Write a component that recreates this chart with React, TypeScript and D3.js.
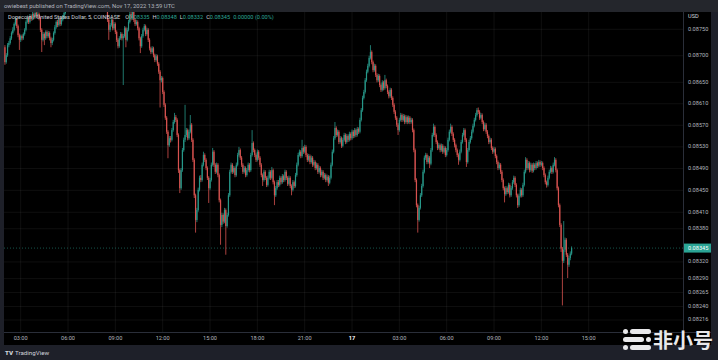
import React from "react";
import * as d3 from "d3";

// ---- data (prices in units of 0.00001 USD, 5-minute candles) ----
const PRICE_UNIT = 1e-5;
const FIRST_CANDLE_UTC = Date.UTC(2022, 10, 16, 2, 0);
const INTERVAL_MS = 5 * 60 * 1000;
const FIRST_OPEN = 8716;

const closes = [
  8688,8701,8720,8724,8733,8743,8749,8760,8768,8756,
  8739,8730,8737,8733,8741,8749,8764,8771,8764,8775,
  8770,8779,8773,8781,8775,8779,8771,8749,8730,8741,
  8733,8745,8737,8743,8733,8724,8730,8743,8754,8764,
  8758,8770,8760,8768,8773,8781,8789,8798,8802,8808,
  8812,8806,8815,8820,8814,8818,8825,8822,8816,8810,
  8818,8824,8830,8826,8820,8814,8808,8812,8818,8812,
  8806,8800,8806,8812,8808,8802,8796,8792,8768,8749,
  8758,8768,8752,8760,8745,8730,8718,8733,8741,8733,
  8737,8752,8730,8749,8764,8779,8771,8783,8768,8760,
  8764,8752,8733,8718,8737,8749,8756,8741,8749,8730,
  8714,8707,8714,8701,8692,8699,8685,8670,8654,8658,
  8632,8608,8584,8558,8533,8546,8543,8561,8576,8585,
  8580,8552,8487,8454,8487,8524,8543,8552,8561,8546,
  8558,8571,8543,8506,8441,8396,8414,8451,8473,8469,
  8497,8515,8506,8491,8473,8454,8469,8497,8521,8497,
  8484,8497,8478,8432,8387,8405,8393,8414,8385,8405,
  8441,8484,8497,8484,8491,8478,8497,8515,8524,8510,
  8497,8484,8491,8478,8487,8497,8487,8515,8537,8524,
  8515,8506,8521,8510,8497,8478,8469,8484,8473,8460,
  8473,8484,8473,8487,8465,8441,8454,8465,8460,8473,
  8465,8476,8469,8484,8473,8462,8473,8458,8451,8465,
  8458,8478,8497,8515,8521,8513,8528,8521,8530,8515,
  8506,8513,8502,8510,8497,8502,8491,8497,8484,8491,
  8478,8484,8473,8478,8469,8475,8464,8473,8497,8521,
  8546,8565,8552,8558,8539,8546,8532,8543,8552,8539,
  8550,8543,8554,8546,8558,8550,8561,8552,8563,8558,
  8580,8598,8621,8632,8654,8670,8681,8696,8707,8688,
  8673,8681,8664,8654,8662,8645,8636,8650,8639,8654,
  8643,8632,8624,8636,8621,8608,8595,8584,8571,8561,
  8580,8589,8580,8587,8576,8585,8576,8584,8576,8580,
  8561,8524,8469,8423,8396,8418,8441,8458,8484,8510,
  8515,8502,8510,8499,8524,8552,8567,8552,8539,8528,
  8533,8524,8532,8521,8528,8515,8524,8543,8558,8567,
  8554,8543,8533,8524,8515,8506,8521,8539,8552,8561,
  8543,8502,8524,8539,8546,8558,8569,8580,8589,8598,
  8595,8584,8589,8576,8563,8571,8558,8550,8539,8543,
  8528,8521,8526,8513,8502,8491,8497,8484,8469,8454,
  8443,8454,8447,8460,8441,8454,8465,8473,8460,8441,
  8423,8440,8451,8441,8460,8484,8506,8491,8500,8487,
  8497,8486,8497,8491,8500,8495,8502,8497,8500,8491,
  8478,8465,8460,8473,8484,8491,8484,8497,8506,8487,
  8454,8423,8387,8344,8322,8342,8360,8333,8315,8327,
  8335,8345,
];

const highs = [
  8720,8705,8724,8728,8737,8746,8754,8763,8773,8771,
  8759,8742,8740,8740,8744,8752,8767,8775,8774,8779,
  8778,8783,8782,8786,8784,8784,8782,8774,8752,8745,
  8744,8748,8748,8747,8746,8736,8734,8746,8758,8767,
  8768,8774,8773,8772,8777,8785,8793,8802,8806,8812,
  8816,8815,8819,8824,8823,8822,8829,8828,8825,8819,
  8822,8828,8834,8833,8829,8823,8817,8816,8822,8821,
  8815,8809,8810,8816,8815,8811,8805,8799,8795,8771,
  8762,8772,8771,8764,8763,8748,8733,8737,8745,8744,
  8741,8756,8755,8753,8768,8796,8783,8790,8786,8771,
  8768,8767,8755,8736,8741,8753,8760,8759,8753,8752,
  8733,8717,8718,8717,8704,8703,8702,8688,8673,8662,
  8661,8635,8611,8587,8561,8550,8550,8565,8580,8593,
  8589,8583,8555,8490,8491,8528,8547,8608,8565,8564,
  8562,8589,8574,8546,8509,8444,8418,8455,8477,8478,
  8501,8521,8518,8509,8494,8476,8473,8501,8528,8524,
  8500,8501,8500,8481,8435,8409,8408,8418,8417,8409,
  8445,8488,8501,8500,8495,8494,8501,8519,8530,8527,
  8513,8500,8495,8494,8491,8501,8500,8519,8561,8540,
  8527,8518,8525,8524,8513,8500,8481,8488,8487,8476,
  8477,8488,8487,8493,8490,8468,8458,8469,8469,8477,
  8476,8480,8479,8488,8487,8476,8477,8476,8461,8469,
  8468,8482,8501,8519,8525,8524,8543,8531,8534,8533,
  8518,8517,8516,8514,8513,8506,8505,8501,8500,8495,
  8494,8488,8487,8482,8481,8479,8478,8477,8501,8525,
  8550,8576,8568,8562,8561,8550,8549,8547,8556,8555,
  8554,8553,8558,8557,8562,8561,8565,8564,8567,8566,
  8584,8602,8625,8636,8658,8674,8685,8700,8720,8710,
  8691,8685,8684,8667,8666,8665,8648,8654,8653,8664,
  8657,8646,8635,8640,8639,8624,8611,8598,8587,8574,
  8584,8593,8592,8591,8590,8589,8588,8588,8587,8584,
  8583,8564,8527,8472,8426,8422,8445,8462,8488,8514,
  8519,8518,8514,8513,8528,8556,8573,8570,8555,8542,
  8537,8536,8536,8535,8532,8531,8528,8547,8562,8573,
  8570,8557,8546,8536,8527,8518,8525,8543,8556,8565,
  8564,8546,8528,8543,8550,8562,8573,8584,8593,8602,
  8603,8598,8593,8592,8579,8575,8574,8561,8553,8547,
  8546,8531,8530,8529,8516,8505,8501,8500,8487,8472,
  8457,8458,8457,8464,8463,8458,8469,8477,8476,8463,
  8444,8444,8455,8454,8464,8488,8511,8509,8504,8503,
  8501,8500,8501,8500,8504,8503,8506,8505,8504,8503,
  8494,8481,8468,8477,8488,8495,8494,8501,8511,8509,
  8490,8457,8426,8390,8347,8394,8364,8363,8336,8331,
  8339,8348,
];

const lows = [
  8683,8685,8698,8716,8721,8730,8740,8746,8757,8752,
  8735,8711,8726,8729,8730,8738,8746,8761,8760,8761,
  8766,8767,8769,8770,8771,8772,8767,8745,8707,8727,
  8720,8730,8733,8734,8729,8716,8720,8727,8740,8751,
  8754,8755,8756,8757,8765,8770,8778,8786,8795,8799,
  8805,8803,8803,8812,8811,8811,8815,8819,8813,8807,
  8807,8815,8821,8823,8817,8811,8805,8805,8809,8809,
  8803,8797,8797,8803,8805,8799,8793,8789,8764,8730,
  8745,8755,8748,8749,8741,8726,8714,8715,8730,8729,
  8645,8734,8716,8727,8746,8761,8767,8768,8764,8756,
  8757,8748,8729,8705,8715,8734,8746,8737,8738,8726,
  8710,8703,8704,8697,8688,8689,8681,8666,8603,8650,
  8628,8604,8580,8554,8509,8530,8538,8540,8558,8573,
  8576,8548,8482,8445,8451,8484,8521,8539,8548,8542,
  8543,8555,8539,8502,8436,8373,8392,8411,8448,8465,
  8466,8494,8502,8487,8469,8427,8451,8466,8494,8493,
  8480,8481,8474,8428,8351,8383,8389,8390,8333,8382,
  8402,8438,8481,8480,8481,8474,8475,8494,8512,8506,
  8493,8480,8481,8474,8475,8484,8483,8484,8512,8520,
  8511,8502,8503,8506,8493,8474,8458,8466,8469,8456,
  8457,8470,8469,8470,8461,8423,8438,8451,8456,8457,
  8461,8462,8465,8466,8469,8458,8459,8454,8441,8448,
  8454,8455,8475,8494,8512,8509,8510,8517,8518,8511,
  8502,8503,8498,8499,8493,8494,8487,8488,8480,8481,
  8474,8475,8469,8470,8465,8466,8458,8461,8470,8494,
  8518,8543,8548,8549,8535,8536,8528,8529,8540,8535,
  8536,8539,8540,8542,8543,8546,8547,8548,8549,8554,
  8555,8577,8595,8618,8629,8651,8667,8678,8693,8684,
  8669,8670,8660,8650,8651,8641,8632,8633,8635,8636,
  8639,8628,8620,8621,8617,8604,8591,8580,8567,8552,
  8558,8577,8576,8577,8572,8573,8572,8573,8572,8573,
  8557,8520,8465,8419,8373,8393,8415,8438,8455,8481,
  8506,8498,8499,8491,8496,8521,8549,8548,8535,8524,
  8525,8520,8521,8517,8518,8511,8512,8521,8540,8555,
  8550,8539,8529,8520,8511,8497,8503,8518,8536,8549,
  8539,8493,8499,8521,8536,8543,8555,8566,8577,8586,
  8591,8580,8581,8572,8559,8560,8554,8546,8535,8536,
  8524,8517,8518,8509,8498,8487,8488,8480,8465,8450,
  8428,8440,8443,8444,8437,8438,8451,8462,8456,8437,
  8418,8420,8437,8437,8438,8457,8481,8487,8488,8483,
  8484,8482,8483,8487,8488,8491,8492,8493,8494,8487,
  8474,8461,8455,8457,8470,8481,8480,8481,8494,8483,
  8450,8419,8383,8338,8242,8318,8338,8329,8291,8311,
  8323,8332,
];

const priceTicks = [0.0875, 0.087, 0.0865, 0.0861, 0.0857, 0.0853, 0.0849, 0.0845, 0.0841, 0.0838, 0.0832, 0.0829, 0.08265, 0.0824, 0.08216];
const timeTicks = [
  Date.UTC(2022, 10, 16, 3), Date.UTC(2022, 10, 16, 6), Date.UTC(2022, 10, 16, 9),
  Date.UTC(2022, 10, 16, 12), Date.UTC(2022, 10, 16, 15), Date.UTC(2022, 10, 16, 18),
  Date.UTC(2022, 10, 16, 21), Date.UTC(2022, 10, 17, 0), Date.UTC(2022, 10, 17, 3),
  Date.UTC(2022, 10, 17, 6), Date.UTC(2022, 10, 17, 9), Date.UTC(2022, 10, 17, 12),
  Date.UTC(2022, 10, 17, 15),
];
const timeTickLabels = ["03:00", "06:00", "09:00", "12:00", "15:00", "18:00", "21:00", "17", "03:00", "06:00", "09:00", "12:00", "15:00"];

const LAST_PRICE = 0.08345;
const HEADER_TEXT = "owiebest published on TradingView.com, Nov 17, 2022 13:59 UTC";
const SYMBOL_TEXT = "Dogecoin / United States Dollar, 5, COINBASE";
const OHLC_LABELS = [
  ["O", "0.08335"],
  ["H", "0.08348"],
  ["L", "0.08332"],
  ["C", "0.08345"],
];
const CHANGE_TEXT = "0.00000 (0.00%)";

const UP = "#2ba595";
const DOWN = "#ea5a57";
const FONT = "Roboto, 'Liberation Sans', sans-serif";

export default function App() {
  const W = 718, H = 360;
  const pane = { left: 4, top: 12, right: 683, bottom: 332 };
  const axisRight = 711;
  const footTop = 345;

  const x = d3.scaleUtc()
    .domain([new Date(Date.UTC(2022, 10, 16, 3)), new Date(Date.UTC(2022, 10, 17, 15))])
    .range([20.7, 588.7]);
  const y = d3.scaleLog().domain([0.08216, 0.0875]).range([320, 29.3]);

  const candles = closes.map((c, i) => {
    const o = i === 0 ? FIRST_OPEN : closes[i - 1];
    return {
      t: new Date(FIRST_CANDLE_UTC + i * INTERVAL_MS),
      o: o * PRICE_UNIT,
      h: highs[i] * PRICE_UNIT,
      l: lows[i] * PRICE_UNIT,
      c: c * PRICE_UNIT,
    };
  });

  const lastY = y(LAST_PRICE);

  return (
    <svg width={W} height={H} style={{ position: "fixed", left: 0, top: 0, background: "#1e2029" }}>
      <defs>
        <clipPath id="paneClip">
          <rect x={pane.left} y={pane.top} width={pane.right - pane.left} height={pane.bottom - pane.top} />
        </clipPath>
      </defs>
      {/* chart region */}
      <rect x={pane.left} y={pane.top} width={axisRight - pane.left} height={footTop - pane.top} fill="#000" />

      {/* grid */}
      <g stroke="#ffffff" strokeOpacity={0.06} strokeWidth={1}>
        {timeTicks.map((t, i) => (
          <line key={"vg" + i} x1={x(new Date(t))} x2={x(new Date(t))} y1={pane.top} y2={pane.bottom} />
        ))}
        {priceTicks.map((p, i) => (
          <line key={"hg" + i} x1={pane.left} x2={pane.right} y1={y(p)} y2={y(p)} />
        ))}
      </g>

      {/* last price line */}
      <line x1={pane.left} x2={pane.right} y1={lastY} y2={lastY} stroke={UP} strokeOpacity={0.5} strokeWidth={1} strokeDasharray="1 2" />

      {/* candles */}
      <g clipPath="url(#paneClip)" opacity={0.92}>
        {candles.map((d, i) => {
          const cx = x(d.t);
          const col = d.c >= d.o ? UP : DOWN;
          const top = y(Math.max(d.o, d.c));
          const bot = y(Math.min(d.o, d.c));
          return (
            <g key={i}>
              <line x1={cx} x2={cx} y1={y(d.h)} y2={y(d.l)} stroke={col} strokeWidth={0.8} />
              <rect x={cx - 0.6} y={top} width={1.2} height={Math.max(1, bot - top)} fill={col} />
            </g>
          );
        })}
      </g>

      {/* axes separators */}
      <line x1={pane.right + 0.5} x2={pane.right + 0.5} y1={pane.top} y2={footTop} stroke="#2a2e39" strokeWidth={1} />
      <line x1={pane.left} x2={axisRight} y1={pane.bottom + 0.5} y2={pane.bottom + 0.5} stroke="#2a2e39" strokeWidth={1} />

      {/* price axis labels */}
      <g fontFamily={FONT} fontSize={5.6} fill="#b2b5be">
        <text x={688} y={17} dominantBaseline="middle" fill="#d1d4dc">USD</text>
        {priceTicks.map((p, i) => (
          <text key={"pl" + i} x={688} y={y(p)} dominantBaseline="middle">{p.toFixed(5)}</text>
        ))}
      </g>
      <rect x={pane.right + 1} y={lastY - 4.5} width={axisRight - pane.right - 1} height={9} fill={UP} />
      <text x={688} y={lastY} dominantBaseline="middle" fontFamily={FONT} fontSize={5.6} fill="#ffffff">{LAST_PRICE.toFixed(5)}</text>

      {/* time axis labels */}
      <g fontFamily={FONT} fontSize={5.6} textAnchor="middle">
        {timeTicks.map((t, i) => (
          <text key={"tl" + i} x={x(new Date(t))} y={339} dominantBaseline="middle"
            fill={timeTickLabels[i] === "17" ? "#ffffff" : "#b2b5be"}
            fontWeight={timeTickLabels[i] === "17" ? 700 : 400}>
            {timeTickLabels[i]}
          </text>
        ))}
      </g>

      {/* header strip */}
      <rect x={0} y={0} width={W} height={pane.top} fill="#24262c" />
      <text x={4} y={6.3} dominantBaseline="middle" fontFamily={FONT} fontSize={5.9} fill="#b2b5be">{HEADER_TEXT}</text>

      {/* legend */}
      <text x={8} y={18} dominantBaseline="middle" fontFamily={FONT} fontSize={5.6}>
        <tspan fill="#d1d4dc">{SYMBOL_TEXT}</tspan>
        {OHLC_LABELS.map(([k, v], i) => (
          <React.Fragment key={k}>
            <tspan fill="#d1d4dc" dx={i === 0 ? 5 : 3}>{k}</tspan>
            <tspan fill={UP}>{v}</tspan>
          </React.Fragment>
        ))}
        <tspan fill={UP} dx={3}>{CHANGE_TEXT}</tspan>
      </text>

      {/* footer */}
      <rect x={0} y={footTop} width={W} height={H - footTop} fill="#1e2029" />
      <text x={5} y={352.5} dominantBaseline="middle" fontFamily={FONT} fontSize={6.2} fill="#d1d4dc">
        <tspan fontWeight={900}>TV</tspan>
        <tspan dx={2}>TradingView</tspan>
      </text>

      {/* watermark */}
      <g fill="#e8e8ea">
        <rect x={623} y={329} width={5} height={5} rx={2.5} />
        <rect x={630} y={329} width={21} height={5} rx={2.5} />
        <rect x={623} y={337} width={21} height={5} rx={2.5} />
        <rect x={646} y={337} width={5} height={5} rx={2.5} />
        <rect x={623} y={345} width={5} height={5} rx={2.5} />
        <rect x={630} y={345} width={21} height={5} rx={2.5} />
      </g>
      <text x={653} y={348} fontFamily="'Noto Sans CJK SC', sans-serif" fontWeight={700} fontSize={20} fill="#e8e8ea">非小号</text>
    </svg>
  );
}
